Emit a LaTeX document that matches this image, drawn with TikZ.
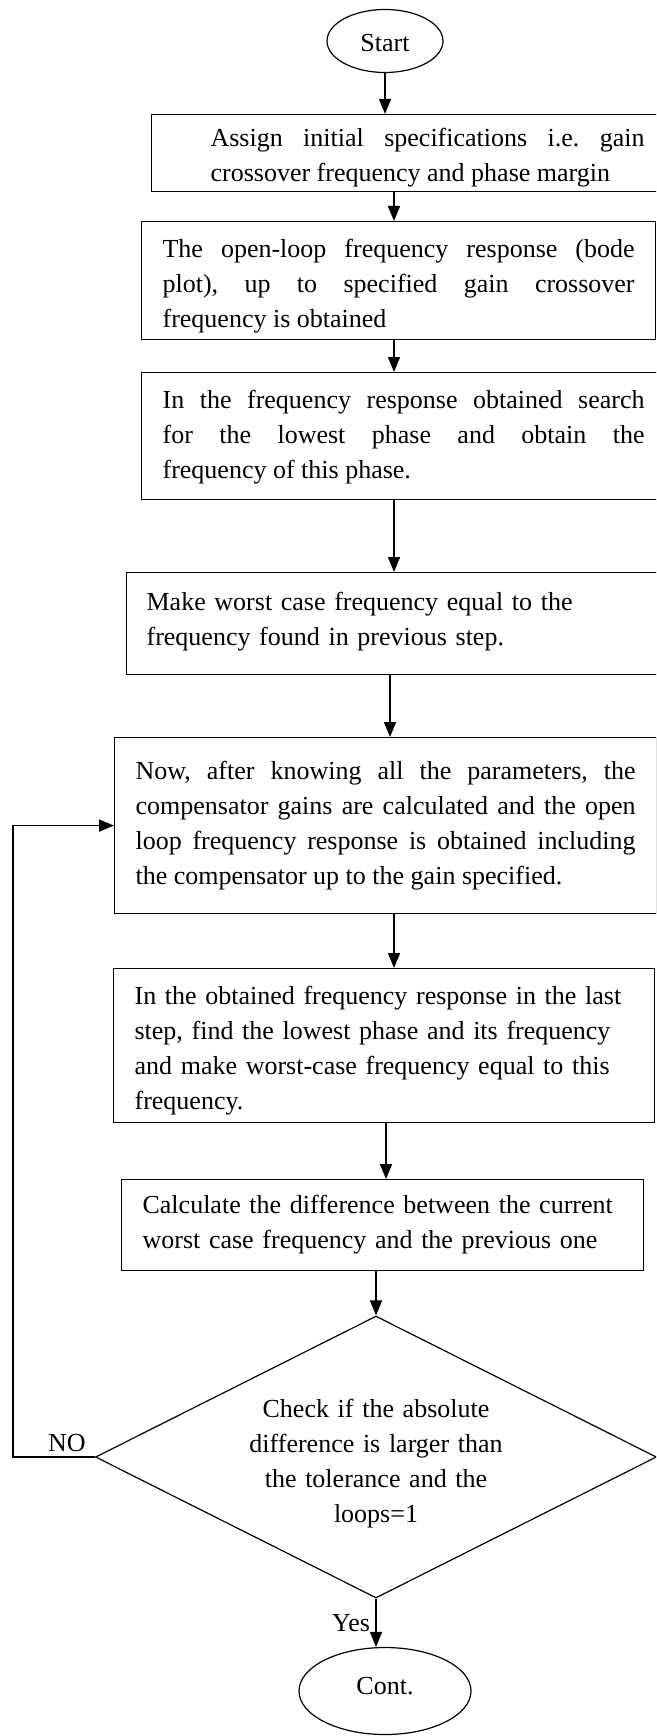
\documentclass[tikz,border=0pt]{standalone}
\usepackage{fontspec}
\setmainfont{Liberation Serif}
\usetikzlibrary{shapes.geometric,arrows.meta}
\frenchspacing

\begin{document}
\begin{tikzpicture}[x=1pt, y=-1pt,
  every node/.style={font=\fontsize{26}{35}\selectfont},
  stepbox/.style={draw, line width=1.2pt, anchor=north west, inner ysep=0pt},
  drop/.style={execute at begin node={\rule{0pt}{#1}}},
  lift/.style={execute at end node={\rule[-#1]{0pt}{#1}}},
  terminal/.style={draw, ellipse, line width=1.2pt, inner sep=0pt},
  flow/.style={-{Triangle[length=15pt,width=12pt]}, line width=1.6pt}]

  \useasboundingbox (0,0) rectangle (656,1736);
  \clip (0,0) rectangle (656,1736);

  % x of the arrows
  \coordinate (colA) at (394,0);
  \coordinate (colB) at (390,0);
  \coordinate (colC) at (386,0);
  \coordinate (back) at (13,0);

  \node [terminal, minimum width=116pt, minimum height=63pt, drop=21pt] (start) at (385,41) {Start};

  %                                                                        x,y
  \node [stepbox, text width=434pt, inner xsep=59pt, minimum height=77pt, align=justify, drop=27pt]
        (spec) at (151,114)
        {Assign initial specifications i.e. gain\linebreak crossover frequency and phase margin};

  \node [stepbox, text width=472pt, inner xsep=21pt, minimum height=118pt, align=justify, drop=29pt]
        (bode) at (141,221)
        {The open-loop frequency response (bode\linebreak plot), up to specified gain crossover\linebreak frequency is obtained};

  \node [stepbox, text width=482pt, inner xsep=21pt, minimum height=127pt, align=justify, drop=20pt]
        (phase) at (141,372)
        {In the frequency response obtained search\linebreak for the lowest phase and obtain the\linebreak frequency of this phase.};

  \node [stepbox, text width=500pt, inner xsep=20.5pt, minimum height=102pt, align=left, lift=9pt]
        (worst) at (125.5,572)
        {Make worst case frequency equal to the\\ frequency found in previous step.};

  \node [stepbox, text width=500pt, inner xsep=21pt, minimum height=176pt, align=justify]
        (gains) at (114,737)
        {Now, after knowing all the parameters, the\linebreak compensator gains are calculated and the open\linebreak loop frequency response is obtained including\linebreak the compensator up to the gain specified.};

  \node [stepbox, text width=499pt, inner xsep=21pt, minimum height=154pt, align=left, drop=28pt]
        (lowest) at (113,968)
        {In the obtained frequency response in the last\\ step, find the lowest phase and its frequency\\ and make worst-case frequency equal to this\\ frequency.};

  \node [stepbox, text width=480pt, inner xsep=21pt, minimum height=91pt, align=left]
        (diff) at (121,1179)
        {Calculate the difference between the current\\ worst case frequency and the previous one};

  \node [draw, diamond, line width=1.2pt, shape aspect=2, inner sep=-80pt,
         minimum width=561pt, minimum height=282pt, text width=300pt, align=center, drop=31pt]
        (check) at (376,1457)
        {Check if the absolute\\ difference is larger than\\ the tolerance and the\\ loops=1};

  \node (no) at (67,1443) {NO};
  \node (yes) at (351,1623) {Yes};

  \node [terminal, minimum width=172pt, minimum height=87pt, lift=11pt] (cont) at (385,1691) {Cont.};

  \draw [flow] (start.south) -- (start.south |- spec.north);
  \draw [flow] (spec.south -| colA) -- (bode.north -| colA);
  \draw [flow] (bode.south -| colA) -- (phase.north -| colA);
  \draw [flow] (phase.south -| colA) -- (worst.north -| colA);
  \draw [flow] (worst.south -| colB) -- (gains.north -| colB);
  \draw [flow] (gains.south -| colA) -- (lowest.north -| colA);
  \draw [flow] (lowest.south -| colC) -- (diff.north -| colC);
  \draw [flow] (diff.south -| check.north) -- (check.north);
  \draw [flow] (check.west) -- (check.west -| back) |- (gains.west);
  \draw [flow] (check.south) -- (check.south |- cont.north);

\end{tikzpicture}
\end{document}
